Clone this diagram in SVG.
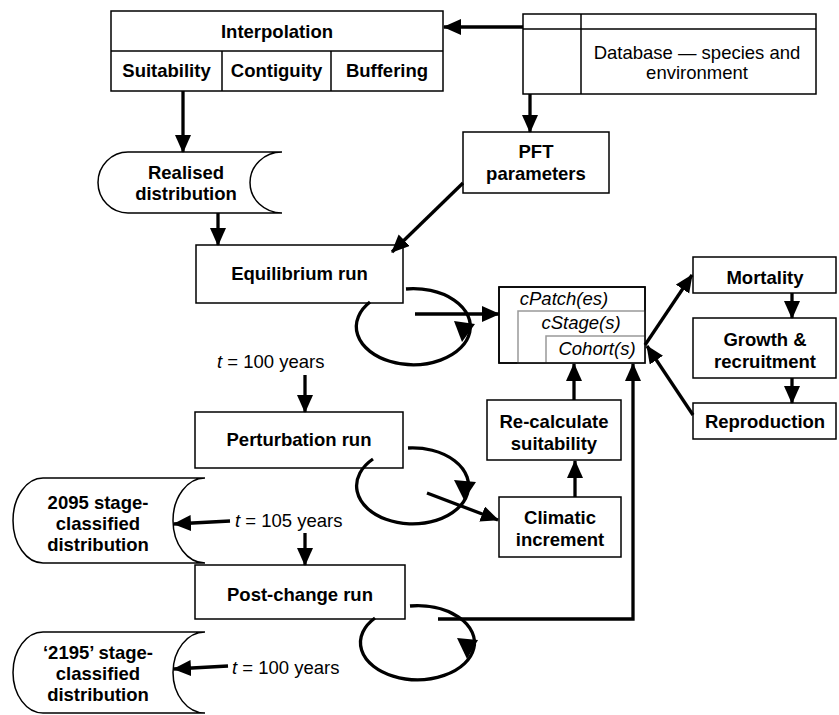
<svg xmlns="http://www.w3.org/2000/svg" width="839" height="715" viewBox="0 0 839 715">
<defs>
<marker id="ah" markerUnits="userSpaceOnUse" markerWidth="19" markerHeight="17" refX="17" refY="8" orient="auto">
<path d="M0,0 L18,8 L0,16 z" fill="#000"/>
</marker>
<style>
.box{fill:#fff;stroke:#000;stroke-width:1.5}
.gbox{fill:#fff;stroke:#999;stroke-width:1.5}
.ln{fill:none;stroke:#000;stroke-width:1.5}
.b{font-family:"Liberation Sans",Arial,sans-serif;font-weight:bold;font-size:18.5px;fill:#000;text-anchor:middle}
.r{font-family:"Liberation Sans",Arial,sans-serif;font-size:18.5px;fill:#000;text-anchor:middle}
.rl{font-family:"Liberation Sans",Arial,sans-serif;font-size:18.5px;fill:#000}
.i{font-family:"Liberation Sans",Arial,sans-serif;font-style:italic;font-size:18.5px;fill:#000;text-anchor:middle}
.c{fill:none;stroke:#000;stroke-width:3.3}
.ca{fill:none;stroke:#000;stroke-width:3.3;marker-end:url(#ah)}
.head{fill:#000;stroke:none}
</style>
</defs>
<rect width="839" height="715" fill="#fff"/>

<g id="interpolation">
<rect class="box" x="111" y="11" width="332" height="80"/>
<line class="ln" x1="111" y1="51" x2="443" y2="51"/>
<line class="ln" x1="222" y1="51" x2="222" y2="91"/>
<line class="ln" x1="331" y1="51" x2="331" y2="91"/>
<text class="b" x="277" y="38">Interpolation</text>
<text class="b" x="166.5" y="77">Suitability</text>
<text class="b" x="276.5" y="77">Contiguity</text>
<text class="b" x="387" y="77">Buffering</text>
</g>

<g id="database">
<rect class="box" x="523" y="14" width="293" height="80"/>
<line class="ln" x1="523" y1="29" x2="816" y2="29"/>
<line class="ln" x1="581" y1="14" x2="581" y2="94"/>
<text class="r" x="697" y="59">Database — species and</text>
<text class="r" x="697" y="79">environment</text>
</g>

<g id="realised">
<path class="box" d="M128,152 L282,152 A32 30.5 0 0 0 282,213 L128,213 A30 30.5 0 0 1 128,152 Z"/>
<text class="b" x="186" y="179">Realised</text>
<text class="b" x="186" y="200">distribution</text>
</g>

<g id="pft">
<rect class="box" x="463" y="132" width="146" height="61"/>
<text class="b" x="536" y="158">PFT</text>
<text class="b" x="536" y="180">parameters</text>
</g>

<g id="equilibrium">
<rect class="box" x="196" y="245" width="207" height="58"/>
<text class="b" x="299.5" y="280">Equilibrium run</text>
</g>

<g id="cpatch">
<rect class="box" x="499" y="287" width="146" height="76"/>
<rect class="gbox" x="518" y="311" width="127" height="52"/>
<rect class="gbox" x="546" y="336" width="99" height="27"/>
<rect x="499" y="287" width="146" height="76" fill="none" stroke="#000" stroke-width="1.5"/>
<text class="i" x="564" y="305">cPatch(es)</text>
<text class="i" x="581" y="329">cStage(s)</text>
<text class="i" x="597" y="355">Cohort(s)</text>
</g>

<g id="mortality">
<rect class="box" x="693" y="257" width="143" height="36"/>
<text class="b" x="765" y="284">Mortality</text>
</g>
<g id="growth">
<rect class="box" x="693" y="318" width="143" height="60"/>
<text class="b" x="765" y="346">Growth &amp;</text>
<text class="b" x="765" y="368">recruitment</text>
</g>
<g id="reproduction">
<rect class="box" x="693" y="403" width="143" height="36"/>
<text class="b" x="765" y="428">Reproduction</text>
</g>

<g id="recalc">
<rect class="box" x="487" y="400" width="134" height="60"/>
<text class="b" x="554" y="428">Re-calculate</text>
<text class="b" x="554" y="450">suitability</text>
</g>

<g id="climatic">
<rect class="box" x="499" y="497" width="122" height="60"/>
<text class="b" x="560" y="524">Climatic</text>
<text class="b" x="560" y="546">increment</text>
</g>

<g id="perturbation">
<rect class="box" x="195" y="412" width="208" height="56"/>
<text class="b" x="299" y="446">Perturbation run</text>
</g>

<g id="postchange">
<rect class="box" x="195" y="565" width="210" height="54"/>
<text class="b" x="300" y="601">Post-change run</text>
</g>

<g id="dist2095">
<path class="box" d="M43,478 L205,478 A32 42.5 0 0 0 205,563 L43,563 A30 42.5 0 0 1 43,478 Z"/>
<text class="b" x="98" y="509">2095 stage-</text>
<text class="b" x="98" y="530">classified</text>
<text class="b" x="98" y="551">distribution</text>
</g>

<g id="dist2195">
<path class="box" d="M43,632 L205,632 A32 40.5 0 0 0 205,713 L43,713 A30 40.5 0 0 1 43,632 Z"/>
<text class="b" x="98" y="659">‘2195’ stage-</text>
<text class="b" x="98" y="680">classified</text>
<text class="b" x="98" y="701">distribution</text>
</g>

<g id="labels">
<text class="rl" x="217" y="368"><tspan font-style="italic">t</tspan> = 100 years</text>
<text class="rl" x="235" y="527"><tspan font-style="italic">t</tspan> = 105 years</text>
<text class="rl" x="232" y="674"><tspan font-style="italic">t</tspan> = 100 years</text>
</g>

<g id="connectors">
<line class="ca" x1="523" y1="27" x2="444" y2="27"/>
<line class="ca" x1="183" y1="91" x2="183" y2="152"/>
<line class="ca" x1="218" y1="213" x2="218" y2="245"/>
<line class="ca" x1="530" y1="94" x2="530" y2="132"/>
<line class="ca" x1="463" y1="183" x2="392" y2="252"/>
<path class="c" d="M406,289 A57 38 0 1 1 370,302"/>
<polygon class="head" points="454,321 475,324 462,342"/>
<line class="ca" x1="415" y1="314" x2="499" y2="314"/>
<path class="c" d="M408,448 A56 38 0 1 1 373,459"/>
<polygon class="head" points="454,480 476,482 464,500"/>
<line class="ca" x1="427" y1="493" x2="498" y2="520"/>
<path class="c" d="M410,606 A57 37 0 1 1 375,618"/>
<polygon class="head" points="457,638 478,640 467,659"/>
<path class="ca" d="M438,619 L633,619 L633,364"/>
<line class="ca" x1="574" y1="400" x2="574" y2="364"/>
<line class="ca" x1="575" y1="497" x2="575" y2="461"/>
<line class="ca" x1="645" y1="345" x2="692" y2="275"/>
<line class="ca" x1="693" y1="415" x2="647" y2="346"/>
<line class="ca" x1="792" y1="293" x2="792" y2="318"/>
<line class="ca" x1="792" y1="378" x2="792" y2="403"/>
<line class="ca" x1="305" y1="375" x2="305" y2="412"/>
<line class="ca" x1="305" y1="533" x2="305" y2="565"/>
<line class="ca" x1="230" y1="521" x2="174" y2="524"/>
<line class="ca" x1="228" y1="666" x2="174" y2="669"/>
</g>
</svg>
